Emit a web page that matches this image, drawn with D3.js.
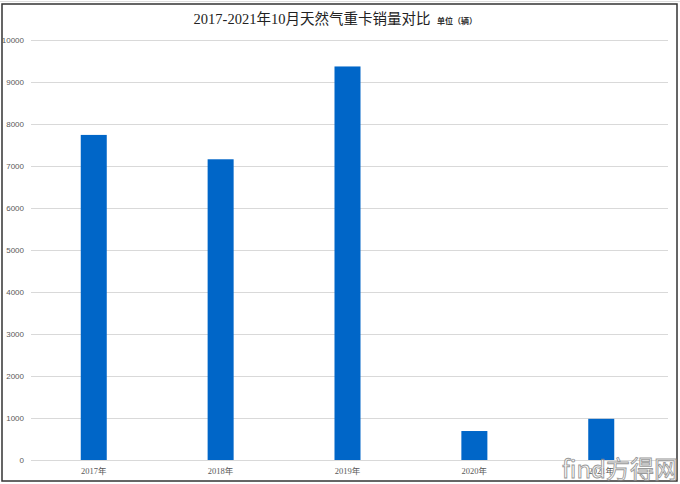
<!DOCTYPE html>
<html><head><meta charset="utf-8">
<script src="https://cdn.jsdelivr.net/npm/d3@7"></script>
<style>body{margin:0;background:#fff}svg{display:block}</style>
</head><body>
<script>
const categories = ["2017年","2018年","2019年","2020年","2021年"];
const values = [7740, 7160, 9370, 690, 980];
const yTicks = [0,1000,2000,3000,4000,5000,6000,7000,8000,9000,10000];
const title = "2017-2021年10月天然气重卡销量对比";
const unit = "单位（辆）";

const W = 680, H = 484;
const svg = d3.select("body").append("svg").attr("width", W).attr("height", H);
svg.append("rect").attr("x",0).attr("y",0).attr("width",W).attr("height",H).attr("fill","#fff");
svg.append("line").attr("x1",0).attr("x2",W).attr("y1",1.5).attr("y2",1.5).attr("stroke","#ddd");
svg.append("rect").attr("x",2).attr("y",4).attr("width",675).attr("height",477)
  .attr("fill","none").attr("stroke","#333").attr("stroke-width",1.5);

const x = d3.scaleBand().domain(categories).range([30, 665]).paddingInner(0.795).paddingOuter(0.4);
const y = d3.scaleLinear().domain([0, 10000]).range([460, 40]);

const g = svg.append("g");
g.selectAll("line.grid").data(yTicks).join("line").attr("class","grid")
  .attr("x1", 31).attr("x2", 668).attr("y1", d => y(d)+0.5).attr("y2", d => y(d)+0.5)
  .attr("stroke", "#d9d9d9").attr("stroke-width", 1);

g.selectAll("text.yt").data(yTicks).join("text").attr("class","yt")
  .attr("x", 24).attr("y", d => y(d)+3).attr("text-anchor","end")
  .attr("font-family","Liberation Sans, sans-serif").attr("font-size",8).attr("fill","#595959")
  .text(d => d);

g.selectAll("rect.bar").data(values).join("rect").attr("class","bar")
  .attr("x", (d,i) => x(categories[i])).attr("width", x.bandwidth())
  .attr("y", d => y(d)).attr("height", d => y(0) - y(d)).attr("fill", "#0066c8");

g.selectAll("text.xt").data(categories).join("text").attr("class","xt")
  .attr("x", d => x(d) + x.bandwidth()/2).attr("y", 474).attr("text-anchor","middle")
  .attr("font-family","Liberation Serif, Noto Sans CJK SC, serif").attr("font-size",8.5).attr("fill","#595959")
  .text(d => d);

svg.append("text").attr("x", 312).attr("y", 24).attr("text-anchor","middle")
  .attr("font-family","Liberation Serif, Noto Sans CJK SC, serif").attr("font-size",14.5).attr("fill","#222")
  .text(title);
svg.append("text").attr("x", 437).attr("y", 24).attr("text-anchor","start")
  .attr("font-family","Noto Sans CJK SC, sans-serif").attr("font-size",8).attr("font-weight","bold").attr("fill","#333")
  .text(unit);

// watermark
svg.append("text").attr("x", 678).attr("y", 478).attr("text-anchor","end")
  .attr("font-family","Noto Sans CJK SC, sans-serif").attr("font-size",24).attr("fill","#fff")
  .attr("stroke","#888").attr("stroke-width",0.9).attr("opacity",0.85)
  .text("find方得网");
</script>
</body></html>
